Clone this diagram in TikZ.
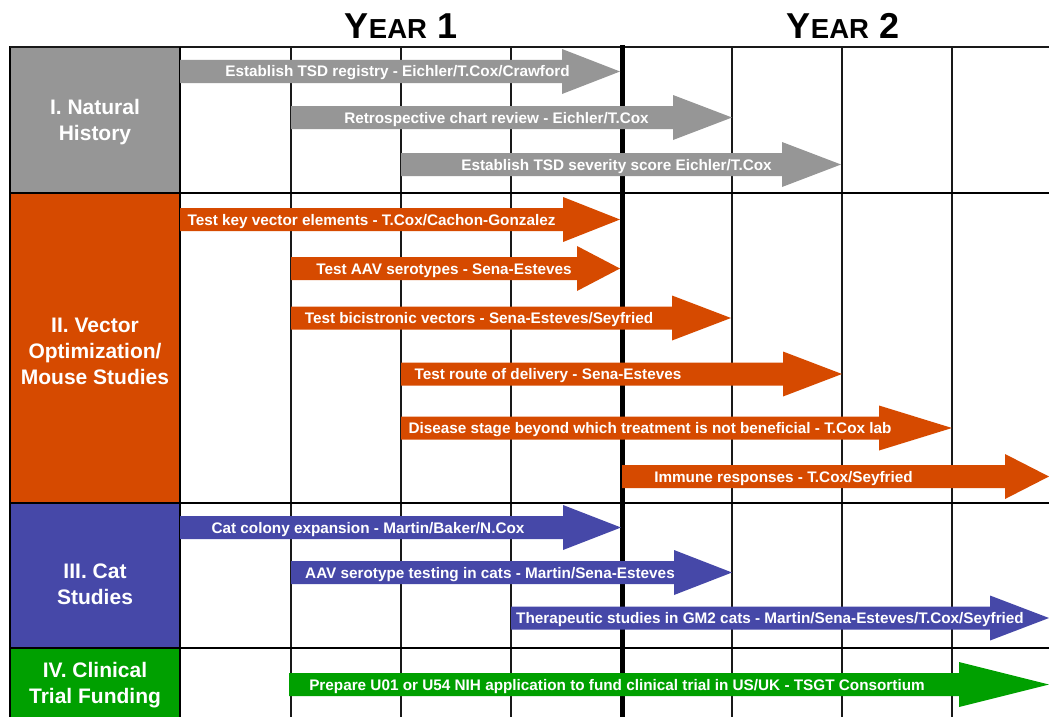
\documentclass[tikz,border=0pt]{standalone}
\usepackage{fontspec}
\setmainfont{Liberation Sans}
\definecolor{cgray}{RGB}{150,150,150}
\definecolor{corange}{RGB}{214,74,0}
\definecolor{cblue}{RGB}{70,72,168}
\definecolor{cgreen}{RGB}{0,160,0}
\definecolor{gridc}{RGB}{25,25,25}
\tikzset{
  arrowtext/.style={text=white, font=\fontsize{15.3}{18}\bfseries\selectfont, inner sep=0pt},
  seclabel/.style={text=white, font=\fontsize{21}{25.7}\bfseries\selectfont, align=center, inner sep=0pt},
  secbox/.style={draw=black, line width=1.3pt},
  thingrid/.style={draw=gridc, line width=1.2pt},
  sepline/.style={draw=black, line width=2.2pt},
  yearlabel/.style={text=black, inner sep=0pt}
}
\newcommand\gantarrow[8]{%
  \fill[#2] (#3,#6-11.5) -- (#4,#6-11.5) -- (#4,#6-22.5) -- (#5,#6) -- (#4,#6+22.5) -- (#4,#6+11.5) -- (#3,#6+11.5) -- cycle;
  \node[arrowtext, anchor=base] (#1) at (#7,#6+5.5) {#8};}
\begin{document}
\begin{tikzpicture}[x=1pt,y=-1pt]
\useasboundingbox (0,0) rectangle (1049,717);
\fill[white] (0,0) rectangle (1049,717);
% year headers
\node[yearlabel, anchor=base] (year1) at (401,39) {\bfseries\fontsize{36}{40}\selectfont Y\fontsize{27.5}{30}\selectfont EAR\fontsize{36}{40}\selectfont{} 1};
\node[yearlabel, anchor=base] (year2) at (843,39) {\bfseries\fontsize{36}{40}\selectfont Y\fontsize{27.5}{30}\selectfont EAR\fontsize{36}{40}\selectfont{} 2};
% section boxes
\draw[secbox, fill=cgray] (10,47) rectangle (180,193);
\draw[secbox, fill=corange] (10,193) rectangle (180,503);
\draw[secbox, fill=cblue] (10,503) rectangle (180,648);
\draw[secbox, fill=cgreen] (10,648) rectangle (180,719);
% grid
\foreach \gx in {291,401,511,732,842,952} \draw[thingrid] (\gx,47) -- (\gx,717);
\draw[thingrid] (10,47) -- (1049,47);
\draw[secbox] (180,47) -- (180,717);
\foreach \gy in {193,503,648} \draw[sepline] (10,\gy) -- (1049,\gy);
\draw[draw=black, line width=5pt] (622,45) -- (622,717);
% section labels (base = baseline of last line)
\node[seclabel, anchor=base] (s1) at (95,140) {I. Natural\\History};
\node[seclabel, anchor=base] (s2) at (95,384) {II. Vector\\Optimization/\\Mouse Studies};
\node[seclabel, anchor=base] (s3) at (95,604) {III. Cat\\Studies};
\node[seclabel, anchor=base] (s4) at (95,703) {IV. Clinical\\Trial Funding};
% gray arrows
\gantarrow{g1}{cgray}{180}{562}{620}{71.5}{397.5}{Establish TSD registry - Eichler/T.Cox/Crawford}
\gantarrow{g2}{cgray}{291}{673}{732}{117.5}{496.5}{Retrospective chart review - Eichler/T.Cox}
\gantarrow{g3}{cgray}{401}{782}{841}{164.5}{616.5}{Establish TSD severity score Eichler/T.Cox}
% orange arrows
\gantarrow{o1}{corange}{180}{563}{620}{219.5}{371.5}{Test key vector elements - T.Cox/Cachon-Gonzalez}
\gantarrow{o2}{corange}{291}{577}{620}{268.5}{444}{Test AAV serotypes - Sena-Esteves}
\gantarrow{o3}{corange}{291}{672}{731}{318}{479}{Test bicistronic vectors - Sena-Esteves/Seyfried}
\gantarrow{o4}{corange}{401}{783}{842}{374}{548}{Test route of delivery - Sena-Esteves}
\gantarrow{o5}{corange}{401}{879}{952}{428}{650}{Disease stage beyond which treatment is not beneficial - T.Cox lab}
\gantarrow{o6}{corange}{622}{1005}{1049}{476.5}{783.5}{Immune responses - T.Cox/Seyfried}
% blue arrows
\gantarrow{b1}{cblue}{180}{563}{621}{527.5}{368}{Cat colony expansion - Martin/Baker/N.Cox}
\gantarrow{b2}{cblue}{291}{674}{732}{572.5}{490}{AAV serotype testing in cats - Martin/Sena-Esteves}
\gantarrow{b3}{cblue}{511}{990}{1049}{618}{770}{Therapeutic studies in GM2 cats - Martin/Sena-Esteves/T.Cox/Seyfried}
% green arrow
\gantarrow{c1}{cgreen}{289}{959}{1049}{684.5}{617}{Prepare U01 or U54 NIH application to fund clinical trial in US/UK - TSGT Consortium}
\end{tikzpicture}
\end{document}
